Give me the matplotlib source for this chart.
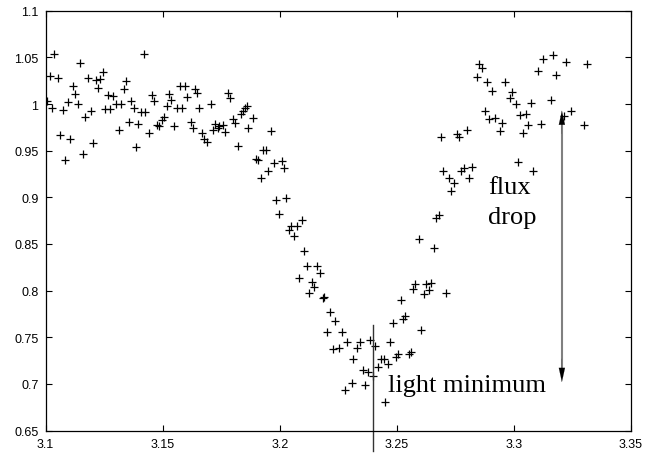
import matplotlib
matplotlib.use("Agg")
import matplotlib.pyplot as plt
import numpy as np

# phase / time values and relative flux
time = [
    3.1038, 3.1146, 3.1419, 3.1018, 3.1052, 3.1246, 3.1181, 3.1214, 3.1234, 3.1116,
    3.1224, 3.1342, 3.1334, 3.1127, 3.1266, 3.1288, 3.1006, 3.1028, 3.1073, 3.1095,
    3.1137, 3.1193, 3.1170, 3.1255, 3.1277, 3.1301, 3.1322, 3.1365, 3.1377, 3.1408,
    3.1426, 3.1313, 3.1355, 3.1396, 3.1062, 3.1106, 3.1203, 3.1159, 3.1085, 3.1386,
    3.1443, 3.1455, 3.1463, 3.1475, 3.1483, 3.1497, 3.1506, 3.1517, 3.1528, 3.1537,
    3.1549, 3.1563, 3.1583, 3.1574, 3.1597, 3.1606, 3.1620, 3.1629, 3.1640, 3.1648,
    3.1657,
    3.1669, 3.1678, 3.1690, 3.1705, 3.1715, 3.1725, 3.1736, 3.1741, 3.1757, 3.1768,
    3.1778, 3.1789, 3.1799, 3.1809, 3.1821, 3.1834, 3.1842, 3.1852, 3.1859, 3.1866,
    3.1885,
    3.1963, 3.1930, 3.1940, 3.1899, 3.1909, 3.1976, 3.2008, 3.2017, 3.1950, 3.1919,
    3.1985, 3.2028, 3.1996, 3.2095, 3.2048, 3.2073, 3.2038, 3.2061, 3.2105, 3.2115,
    3.2158, 3.2171, 3.2081, 3.2137, 3.2147, 3.2127, 3.2183, 3.2191, 3.2214,
    3.2237, 3.2201, 3.2267, 3.2289, 3.2226, 3.2252, 3.2330, 3.2343, 3.2386, 3.2408,
    3.2311, 3.2354, 3.2375, 3.2397, 3.2279, 3.2310, 3.2364, 3.2418, 3.2434, 3.2445,
    3.2461, 3.2472, 3.2495, 3.2506, 3.2553, 3.2562, 3.2485, 3.2525, 3.2535, 3.2518,
    3.2602, 3.2451,
    3.2570, 3.2579, 3.2616, 3.2625, 3.2639, 3.2646, 3.2711, 3.2593, 3.2657, 3.2668,
    3.2681, 3.2699, 3.2724, 3.2746, 3.2733, 3.2776, 3.2787, 3.2820, 3.2810, 3.2690,
    3.2756, 3.2766, 3.2801,
    3.2852, 3.2862, 3.2841, 3.2887, 3.2908, 3.2962, 3.2993, 3.2983, 3.3008, 3.3072,
    3.3102, 3.3126, 3.3168, 3.3221, 3.3311, 3.3178, 3.3158, 3.3242, 3.3214, 3.3299,
    3.2877, 3.2895, 3.2919, 3.2950, 3.2940, 3.3026, 3.3050, 3.3059, 3.3114, 3.3039,
    3.3016, 3.3081,
]
flux = [
    1.0536, 1.0436, 1.0536, 1.0297, 1.0275, 1.0340, 1.0282, 1.0260, 1.0268, 1.0193,
    1.0175, 1.0247, 1.0161, 1.0104, 1.0100, 1.0083, 1.0032, 0.9957, 0.9939, 1.0018,
    1.0003, 0.9928, 0.9857, 0.9943, 0.9943, 0.9997, 0.9997, 1.0029, 0.9957, 0.9911,
    0.9911, 0.9725, 0.9810, 0.9782, 0.9664, 0.9622, 0.9585, 0.9467, 0.9396, 0.9536,
    0.9686, 1.0100, 1.0035, 0.9775, 0.9760, 0.9832, 0.9857, 0.9982, 1.0107, 1.0046,
    0.9768, 0.9954, 0.9954, 1.0196, 1.0190, 1.0072, 0.9810, 0.9746, 1.0161, 1.0118,
    0.9954,
    0.9686, 0.9625, 0.9596, 1.0003, 0.9721, 0.9782, 0.9743, 0.9761, 0.9775, 0.9700,
    1.0122, 1.0061, 0.9836, 0.9796, 0.9547, 0.9893, 0.9922, 0.9957, 0.9975, 0.9739,
    0.9847,
    0.9714, 0.9510, 0.9504, 0.9410, 0.9400, 0.9368, 0.9393, 0.9310, 0.9279, 0.9207,
    0.8974, 0.8989, 0.8821, 0.8757, 0.8689, 0.8689, 0.8653, 0.8589, 0.8428, 0.8260,
    0.8260, 0.8189, 0.8132, 0.8089, 0.8039, 0.7971, 0.7918, 0.7929, 0.7774,
    0.7674, 0.7560, 0.7560, 0.7452, 0.7374, 0.7381, 0.7381, 0.7446, 0.7467, 0.7410,
    0.7267, 0.7152, 0.7131, 0.7088, 0.6938, 0.7010, 0.6984, 0.7181, 0.7267, 0.7264,
    0.7210, 0.7452, 0.7285, 0.7317, 0.7324, 0.7339, 0.7654, 0.7697, 0.7725, 0.7900,
    0.7582, 0.6809,
    0.8017, 0.8068, 0.7960, 0.8068, 0.8006, 0.8078, 0.7978, 0.8553, 0.8460, 0.8775,
    0.8810, 0.9279, 0.9210, 0.9157, 0.9064, 0.9279, 0.9311, 0.9328, 0.9204, 0.9643,
    0.9675, 0.9650, 0.9725,
    1.0433, 1.0390, 1.0286, 1.0232, 1.0136, 1.0232, 1.0125, 1.0061, 1.0000, 1.0011,
    1.0354, 1.0479, 1.0528, 1.0447, 1.0433, 1.0311, 1.0043, 0.9922, 0.9870, 0.9775,
    0.9922, 0.9840, 0.9850, 0.9793, 0.9714, 0.9882, 0.9893, 0.9779, 0.9782, 0.9693,
    0.9375, 0.9279,
]

x_ticks = [3.1, 3.15, 3.2, 3.25, 3.3, 3.35]
x_tick_labels = ["3.1", "3.15", "3.2", "3.25", "3.3", "3.35"]
y_ticks = [0.65, 0.7, 0.75, 0.8, 0.85, 0.9, 0.95, 1.0, 1.05, 1.1]
y_tick_labels = ["0.65", "0.7", "0.75", "0.8", "0.85", "0.9", "0.95", "1", "1.05", "1.1"]

minimum_time = 3.24
minimum_line_top = 0.763
drop_time = 3.3205
drop_top = 0.993
drop_bottom = 0.702

fig = plt.figure(figsize=(6.53, 4.56), dpi=100)
ax = fig.add_axes([45.5 / 653, 1 - 431.6 / 456, (631 - 45.5) / 653, (431.6 - 11.7) / 456])

ax.plot(time, flux, linestyle="none", marker="+", markersize=5.5,
        markeredgewidth=0.9, color="black")

ax.set_xlim(3.1, 3.35)
ax.set_ylim(0.65, 1.1)
ax.set_xticks(x_ticks)
ax.set_xticklabels(x_tick_labels)
ax.set_yticks(y_ticks)
ax.set_yticklabels(y_tick_labels)
ax.tick_params(direction="in", length=4, width=0.8, top=True, right=True,
               labelsize=9, pad=5)
for lab in ax.get_xticklabels() + ax.get_yticklabels():
    lab.set_fontfamily("Liberation Sans")
for sp in ax.spines.values():
    sp.set_linewidth(0.9)

# light-minimum marker line (extends below the axis)
ax.plot([minimum_time, minimum_time], [minimum_line_top, 0.628], color="#333333",
        lw=1.0, clip_on=False)

# flux drop double arrow
ax.plot([drop_time, drop_time], [drop_bottom + 0.01, drop_top - 0.01],
        color="#808080", lw=1.5)
head = dict(arrowstyle="-|>,head_length=1.0,head_width=0.22", color="black", lw=0.1,
            shrinkA=0, shrinkB=0)
ax.annotate("", xy=(drop_time, drop_top), xytext=(drop_time, drop_top - 0.025),
            arrowprops=head)
ax.annotate("", xy=(drop_time, drop_bottom), xytext=(drop_time, drop_bottom + 0.025),
            arrowprops=head)

serif = "Liberation Serif"
ax.text(3.2889, 0.9046, "flux", fontsize=19, family=serif, va="baseline", ha="left")
ax.text(3.2889, 0.8720, "drop", fontsize=19, family=serif, va="baseline", ha="left")
ax.text(3.2464, 0.6920, "light minimum", fontsize=19, family=serif,
        va="baseline", ha="left")

fig.savefig("out.png", dpi=100)
